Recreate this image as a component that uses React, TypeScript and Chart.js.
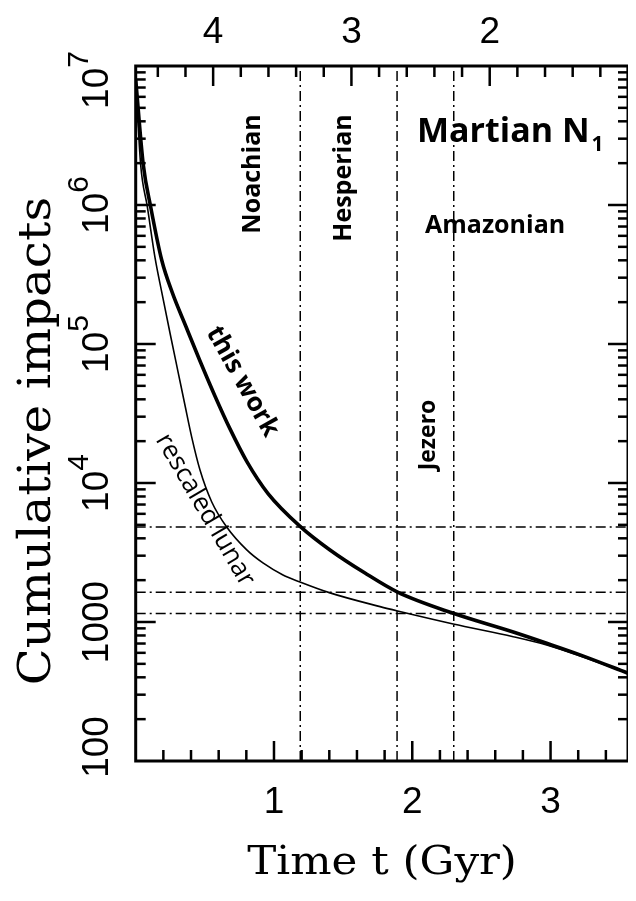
import React, { useEffect, useRef } from "react";
import { Chart, registerables } from "chart.js";

Chart.register(...registerables);

// ---- data ----
const X_MAX = 3.56;
const Y_MIN = 100;
const Y_MAX = 1e7;
const SOLAR_AGE = 4.56;

const thisWorkTime = [0, 0.055, 0.108, 0.188, 0.266, 0.364, 0.465, 0.573, 0.682, 0.805, 0.957, 1.195, 1.405, 1.658, 1.894, 2.296, 2.73, 2.972, 3.213, 3.56];
const thisWorkImpacts = [8000000, 1940000, 973000, 402000, 232000, 133000, 75500, 42300, 24500, 14200, 8400, 4820, 3300, 2250, 1640, 1155, 847, 703, 580, 428];

const lunarTime = [0, 0.036, 0.084, 0.14, 0.188, 0.248, 0.308, 0.356, 0.405, 0.465, 0.55, 0.658, 0.803, 0.92, 1.065, 1.188, 1.405, 1.767, 1.894, 2.296, 2.73, 2.972, 3.213, 3.56];
const lunarImpacts = [8000000, 1940000, 973000, 416000, 237000, 120000, 61800, 36400, 21400, 12400, 7300, 4820, 3300, 2660, 2180, 1940, 1620, 1290, 1200, 968, 784, 683, 570, 428];

const boundaryTimes = [1.19, 1.89, 2.3];
const boundaryLevels = [4820, 1640, 1150];

const bottomTickValues = [1, 2, 3];
const topAgeValues = [4, 3, 2];
const yTickValues = [100, 1000, 1e4, 1e5, 1e6, 1e7];
const yTickBase = ["100", "1000", "10", "10", "10", "10"];
const yTickExp = ["", "", "4", "5", "6", "7"];

const OFF = 8; // canvas offset in the page
const TICK_FONT = '"Liberation Sans", Arial, sans-serif';
const TITLE_FONT = '"DejaVu Serif", serif';
const NOTE_FONT = '"Open Sans", Lato, sans-serif';

const dashDot = [10, 4, 2, 4];

function line(ctx: CanvasRenderingContext2D, x1: number, y1: number, x2: number, y2: number) {
  ctx.beginPath();
  ctx.moveTo(x1, y1);
  ctx.lineTo(x2, y2);
  ctx.stroke();
}

function rotatedText(ctx: CanvasRenderingContext2D, text: string, cx: number, cy: number, angle: number, font: string) {
  ctx.save();
  ctx.translate(cx - OFF, cy - OFF);
  ctx.rotate(angle);
  ctx.font = font;
  ctx.textAlign = "center";
  ctx.textBaseline = "middle";
  ctx.fillText(text, 0, 0);
  ctx.restore();
}

const framePlugin = {
  id: "frameAndLabels",
  afterDraw(chart: any) {
    const { ctx, chartArea: a, scales } = chart;
    const xs = scales.x;
    const ys = scales.y;
    ctx.save();
    ctx.strokeStyle = "#000";
    ctx.fillStyle = "#000";
    ctx.setLineDash([]);
    ctx.lineWidth = 2.5;
    ctx.lineCap = "butt";

    // bottom ticks (time)
    for (let i = 1; i * 0.2 < X_MAX; i++) {
      const v = i * 0.2;
      const px = xs.getPixelForValue(v);
      const len = i % 5 === 0 ? 20 : 11;
      line(ctx, px, a.bottom, px, a.bottom - len);
    }
    // top ticks (age)
    for (let i = 0; i < 40; i++) {
      const age = 4.4 - i * 0.2;
      const t = SOLAR_AGE - age;
      if (t <= 0 || t >= X_MAX) continue;
      const px = xs.getPixelForValue(t);
      const isMajor = Math.abs(age - Math.round(age)) < 1e-6;
      const len = isMajor ? 20 : 11;
      line(ctx, px, a.top, px, a.top + len);
    }
    // left & right log ticks
    for (let d = 2; d <= 6; d++) {
      for (let m = 1; m <= 9; m++) {
        const v = m * Math.pow(10, d);
        if (v <= Y_MIN || v >= Y_MAX) continue;
        const py = ys.getPixelForValue(v);
        const len = m === 1 ? 20 : 10;
        line(ctx, a.left, py, a.left + len, py);
        line(ctx, a.right, py, a.right - len, py);
      }
    }
    // frame
    ctx.lineWidth = 3;
    ctx.strokeRect(a.left, a.top, a.right - a.left, a.bottom - a.top);

    // bottom tick labels
    ctx.font = `37px ${TICK_FONT}`;
    ctx.textAlign = "center";
    ctx.textBaseline = "alphabetic";
    bottomTickValues.forEach((v) => {
      ctx.fillText(String(v), xs.getPixelForValue(v), 813 - OFF);
    });
    // top tick labels
    topAgeValues.forEach((age) => {
      ctx.fillText(String(age), xs.getPixelForValue(SOLAR_AGE - age), 43 - OFF);
    });

    // y tick labels (rotated)
    yTickValues.forEach((v, i) => {
      let py = ys.getPixelForValue(v);
      if (i === 0) py -= 14;
      if (i === yTickValues.length - 1) py += 14;
      ctx.save();
      ctx.translate(108 - OFF, py);
      ctx.rotate(-Math.PI / 2);
      ctx.textAlign = "left";
      ctx.textBaseline = "alphabetic";
      const baseFont = `37px ${TICK_FONT}`;
      const expFont = `30px ${TICK_FONT}`;
      ctx.font = baseFont;
      const wb = ctx.measureText(yTickBase[i]).width;
      ctx.font = expFont;
      const we = yTickExp[i] ? ctx.measureText(yTickExp[i]).width : 0;
      const start = -(wb + we) / 2;
      ctx.font = baseFont;
      ctx.fillText(yTickBase[i], start, 0);
      if (yTickExp[i]) {
        ctx.font = expFont;
        ctx.fillText(yTickExp[i], start + wb, -20);
      }
      ctx.restore();
    });

    // axis titles
    ctx.textAlign = "center";
    ctx.textBaseline = "alphabetic";
    ctx.save();
    ctx.font = `40px ${TITLE_FONT}`;
    ctx.translate(382 - OFF, 874 - OFF);
    ctx.scale(1.09, 1);
    ctx.fillText("Time t (Gyr)", 0, 0);
    ctx.restore();
    ctx.save();
    ctx.font = `44px ${TITLE_FONT}`;
    ctx.translate(50 - OFF, 441 - OFF);
    ctx.rotate(-Math.PI / 2);
    ctx.scale(1.1, 1);
    ctx.fillText("Cumulative impacts", 0, 0);
    ctx.restore();

    // annotations
    ctx.textAlign = "left";
    ctx.textBaseline = "alphabetic";
    ctx.font = `bold 34px ${NOTE_FONT}`;
    ctx.fillText("Martian N", 417 - OFF, 142 - OFF);
    const wM = ctx.measureText("Martian N").width;
    ctx.font = `bold 21px ${NOTE_FONT}`;
    ctx.fillText("1", 417 - OFF + wM + 2, 151 - OFF);

    ctx.font = `bold 25px ${NOTE_FONT}`;
    ctx.fillText("Amazonian", 425 - OFF, 233 - OFF);

    const eraFont = `bold 25px ${NOTE_FONT}`;
    rotatedText(ctx, "Noachian", 253, 174, -Math.PI / 2, eraFont);
    rotatedText(ctx, "Hesperian", 344, 178, -Math.PI / 2, eraFont);
    rotatedText(ctx, "Jezero", 428, 435, -Math.PI / 2, `bold 23px ${NOTE_FONT}`);
    rotatedText(ctx, "this work", 242.5, 381.7, (60.7 * Math.PI) / 180, `bold 26px ${NOTE_FONT}`);
    rotatedText(ctx, "rescaled lunar", 205, 510, (59.7 * Math.PI) / 180, `26px ${NOTE_FONT}`);

    ctx.restore();
  },
};

export default function App() {
  const ref = useRef<HTMLCanvasElement | null>(null);

  useEffect(() => {
    const canvas = ref.current;
    if (!canvas) return;

    const verticals = boundaryTimes.map((t) => ({
      data: [
        { x: t, y: Y_MIN },
        { x: t, y: Y_MAX },
      ],
      borderColor: "#000",
      borderWidth: 1.5,
      borderDash: dashDot,
      pointRadius: 0,
      showLine: true,
      tension: 0,
    }));
    const horizontals = boundaryLevels.map((v) => ({
      data: [
        { x: 0, y: v },
        { x: X_MAX, y: v },
      ],
      borderColor: "#000",
      borderWidth: 1.5,
      borderDash: dashDot,
      pointRadius: 0,
      showLine: true,
      tension: 0,
    }));

    const chart = new Chart(canvas, {
      type: "scatter",
      data: {
        datasets: [
          ...verticals,
          ...horizontals,
          {
            label: "rescaled lunar",
            data: lunarTime.map((t, i) => ({ x: t, y: lunarImpacts[i] })),
            borderColor: "#000",
            borderWidth: 1.6,
            pointRadius: 0,
            showLine: true,
            cubicInterpolationMode: "monotone",
          },
          {
            label: "this work",
            data: thisWorkTime.map((t, i) => ({ x: t, y: thisWorkImpacts[i] })),
            borderColor: "#000",
            borderWidth: 3.6,
            pointRadius: 0,
            showLine: true,
            cubicInterpolationMode: "monotone",
          },
        ] as any,
      },
      options: {
        animation: false,
        responsive: false,
        maintainAspectRatio: false,
        devicePixelRatio: 1,
        layout: { padding: { left: 127.7, right: 8, top: 58, bottom: 132 } },
        plugins: { legend: { display: false }, tooltip: { enabled: false } },
        events: [],
        scales: {
          x: { type: "linear", min: 0, max: X_MAX, display: false },
          y: { type: "logarithmic", min: Y_MIN, max: Y_MAX, display: false },
        },
      },
      plugins: [framePlugin],
    });
    return () => chart.destroy();
  }, []);

  return (
    <div style={{ width: 628, height: 885 }}>
      <canvas ref={ref} width={628} height={885} style={{ display: "block", width: 628, height: 885 }} />
    </div>
  );
}
